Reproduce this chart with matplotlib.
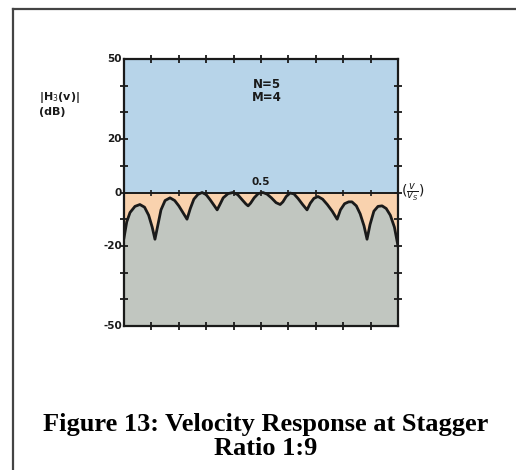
import matplotlib.pyplot as plt
from matplotlib.lines import Line2D

# normalised velocity v/vs and response |H3(v)| in dB
v = [0.000, 0.010, 0.022, 0.040, 0.058, 0.075, 0.090, 0.103, 0.113,
     0.123, 0.135, 0.150, 0.168, 0.185, 0.200, 0.215, 0.230,
     0.242, 0.255, 0.270, 0.285, 0.300, 0.315, 0.330, 0.340,
     0.350, 0.362, 0.380, 0.398, 0.415, 0.432, 0.445, 0.453,
     0.462, 0.475, 0.490, 0.507, 0.522, 0.538, 0.555, 0.570,
     0.580, 0.592, 0.606, 0.620, 0.635, 0.652, 0.668,
     0.680, 0.693, 0.708, 0.725, 0.742, 0.760, 0.778,
     0.790, 0.805, 0.820, 0.832, 0.848, 0.862, 0.876, 0.887,
     0.898, 0.912, 0.927, 0.942, 0.957, 0.972, 0.987, 1.000]
h_db = [-17, -11, -7.5, -5.2, -4.5, -5.5, -8.5, -13, -17.5,
        -12.5, -6.5, -3, -2, -3, -5, -7.5, -10,
        -6, -2.5, -0.7, 0, -0.8, -2.8, -5, -6.5,
        -4.5, -2, -0.4, 0, -0.8, -2.8, -4.3, -5,
        -4, -2, -0.4, 0, -0.6, -2, -3.8, -4.5,
        -3.5, -1.5, -0.2, -0.5, -2.2, -4.5, -6.5,
        -4, -2.2, -1.5, -2.5, -4.5, -7, -10,
        -6.5, -4.2, -3.5, -3.5, -5, -8, -12.5, -17.5,
        -12, -7, -5.2, -5, -6, -8.5, -13, -20]

x_ticks = [0.1, 0.2, 0.3, 0.4, 0.5, 0.6, 0.7, 0.8, 0.9]
y_ticks = [-40, -30, -20, -10, 0, 10, 20, 30, 40]
y_labels = {50: '50', 20: '20', 0: '0', -20: '-20', -50: '-50'}

blue = '#b7d4e9'
peach = '#f9d2ae'
grey = '#c1c6c0'
ink = '#1a1a1a'
hand = dict(family='DejaVu Sans Condensed', weight='bold', color=ink)

fig = plt.figure(figsize=(5.16, 4.70), dpi=100)
ax = fig.add_axes([0.2403, 0.3064, 0.531, 0.568])
ax.set_xlim(0, 1)
ax.set_ylim(-50, 50)

ax.axhspan(0, 50, color=blue, zorder=0)
ax.fill_between(v, h_db, 0, color=peach, zorder=1, linewidth=0)
ax.fill_between(v, -50, h_db, color=grey, zorder=1, linewidth=0)
ax.plot(v, h_db, color=ink, lw=2.0, zorder=3)
ax.axhline(0, color=ink, lw=1.4, zorder=2)
ax.plot(x_ticks, [0] * len(x_ticks), ls='none', marker='|',
        ms=5, mew=1.2, color=ink, zorder=3)

for s in ax.spines.values():
    s.set_linewidth(1.6)
    s.set_color(ink)
ax.set_xticks(x_ticks)
ax.set_yticks(y_ticks)
ax.tick_params(direction='inout', length=6, width=1.3, color=ink,
               top=True, right=True, labelbottom=False, labelleft=False)

for val, lab in y_labels.items():
    ax.text(-0.008, val, lab, ha='right', va='center', fontsize=7.5, **hand)

ax.text(0.5, 2.0, '0.5', ha='center', va='bottom', fontsize=7.5, **hand)
ax.text(1.012, 0, r'$(\frac{v}{v_S})$', ha='left', va='center',
        fontsize=10, color=ink)
ax.text(0.52, 38, 'N=5\nM=4', ha='center', va='center', fontsize=8.5,
        linespacing=1.05, **hand)
fig.text(0.076, 0.78, '|H$_3$(v)|\n(dB)', ha='left', va='center',
         fontsize=8, linespacing=1.3, **hand)

# page border
fig.add_artist(Line2D([13 / 516, 13 / 516], [0, 1 - 9 / 470],
                      color='#444444', lw=1.6, transform=fig.transFigure))
fig.add_artist(Line2D([13 / 516, 1], [1 - 9 / 470, 1 - 9 / 470],
                      color='#444444', lw=1.6, transform=fig.transFigure))

fig.text(0.515, 0.072, 'Figure 13: Velocity Response at Stagger\nRatio 1:9',
         ha='center', va='center', fontsize=19, weight='bold',
         family='Liberation Serif', linespacing=1.05)

fig.savefig('out.png', dpi=100)
